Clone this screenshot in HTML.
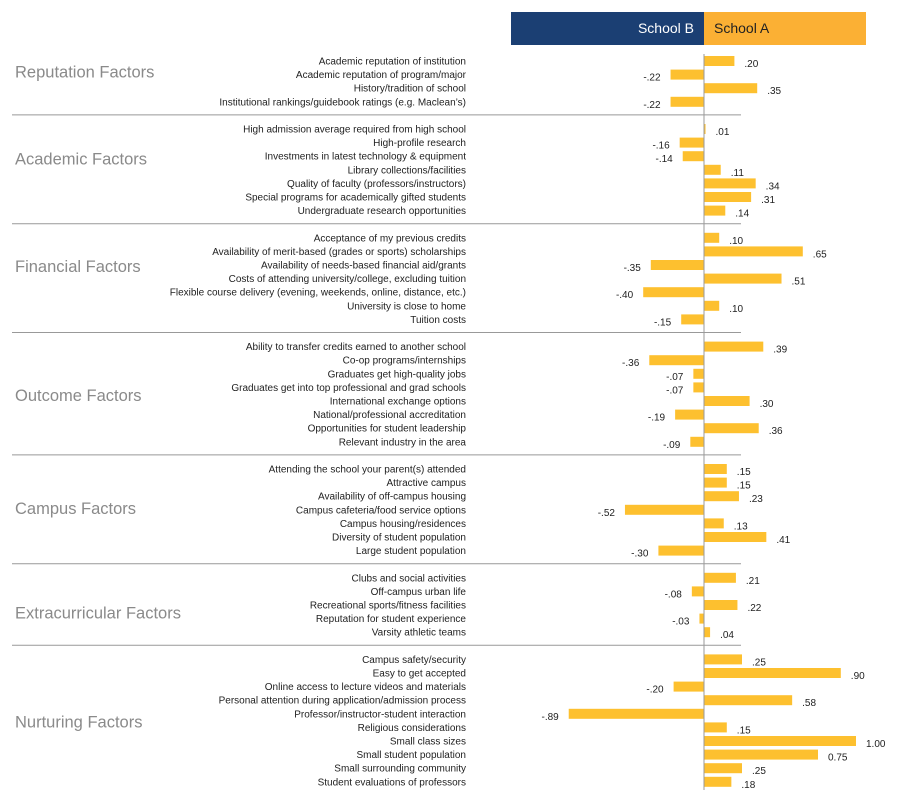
<!DOCTYPE html>
<html><head><meta charset="utf-8"><style>
body{margin:0;background:#fff;}
svg{display:block;font-family:"Liberation Sans",sans-serif;}
</style></head><body>
<svg id="c" width="900" height="794"></svg>
<script>
const groups=["Reputation Factors","Academic Factors","Financial Factors","Outcome Factors","Campus Factors","Extracurricular Factors","Nurturing Factors"];
const groupSizes=[4,7,7,8,7,5,10];
const categories=["Academic reputation of institution","Academic reputation of program/major","History/tradition of school","Institutional rankings/guidebook ratings (e.g. Maclean\u2019s)",
"High admission average required from high school","High-profile research","Investments in latest technology & equipment","Library collections/facilities","Quality of faculty (professors/instructors)","Special programs for academically gifted students","Undergraduate research opportunities",
"Acceptance of my previous credits","Availability of merit-based (grades or sports) scholarships","Availability of needs-based financial aid/grants","Costs of attending university/college, excluding tuition","Flexible course delivery (evening, weekends, online, distance, etc.)","University is close to home","Tuition costs",
"Ability to transfer credits earned to another school","Co-op programs/internships","Graduates get high-quality jobs","Graduates get into top professional and grad schools","International exchange options","National/professional accreditation","Opportunities for student leadership","Relevant industry in the area",
"Attending the school your parent(s) attended","Attractive campus","Availability of off-campus housing","Campus cafeteria/food service options","Campus housing/residences","Diversity of student population","Large student population",
"Clubs and social activities","Off-campus urban life","Recreational sports/fitness facilities","Reputation for student experience","Varsity athletic teams",
"Campus safety/security","Easy to get accepted","Online access to lecture videos and materials","Personal attention during application/admission process","Professor/instructor-student interaction","Religious considerations","Small class sizes","Small student population","Small surrounding community","Student evaluations of professors"];
const values=[0.20,-0.22,0.35,-0.22,
0.01,-0.16,-0.14,0.11,0.34,0.31,0.14,
0.10,0.65,-0.35,0.51,-0.40,0.10,-0.15,
0.39,-0.36,-0.07,-0.07,0.30,-0.19,0.36,-0.09,
0.15,0.15,0.23,-0.52,0.13,0.41,-0.30,
0.21,-0.08,0.22,-0.03,0.04,
0.25,0.90,-0.20,0.58,-0.89,0.15,1.00,0.75,0.25,0.18];
const valueLabels=[".20","-.22",".35","-.22",
".01","-.16","-.14",".11",".34",".31",".14",
".10",".65","-.35",".51","-.40",".10","-.15",
".39","-.36","-.07","-.07",".30","-.19",".36","-.09",
".15",".15",".23","-.52",".13",".41","-.30",
".21","-.08",".22","-.03",".04",
".25",".90","-.20",".58","-.89",".15","1.00","0.75",".25",".18"];
const svg=document.getElementById('c');
const NS="http://www.w3.org/2000/svg";
function mk(t,a,p){const e=document.createElementNS(NS,t);for(const k in a)e.setAttribute(k,a[k]);(p||svg).appendChild(e);return e;}
const x0=704, scale=152;
const labelRowPos=[0.8,2.2,2.1,3.6,2.9,2.6,4.6];
function xs(v){return x0+v*scale;}
function ys(slot){return 61+slot*13.6;}
let h=mk('rect',{x:511,y:12,width:193,height:33,fill:'#1B3F73'});


let ht=mk('text',{x:694,y:33,'text-anchor':'end','font-size':14,fill:'#fff'});ht.textContent='School B';


let ha=mk('rect',{x:704,y:12,width:162,height:33,fill:'#FBB034'});


let hat=mk('text',{x:714,y:33,'font-size':14,fill:'#222'});hat.textContent='School A';


let slot=0,idx=0;
groups.forEach((g,gi)=>{
  const n=groupSizes[gi];
  const gy=ys(slot+labelRowPos[gi]);
  let gt=mk('text',{x:15,y:gy+5.5,'font-size':16.5,fill:'#8a8a8a'});gt.textContent=g;
  
  
  for(let i=0;i<n;i++){
    const y=ys(slot), v=values[idx];
    let lt=mk('text',{x:466,y:y+3.5,'text-anchor':'end','font-size':10,fill:'#222'});lt.textContent=categories[idx];
    
    
    const xa=Math.min(xs(0),xs(v)), w=Math.abs(xs(v)-xs(0));
    let b=mk('rect',{x:xa,y:y-5,width:Math.max(w,0.5),height:10,fill:'#FDC02F'});
    
    
    let vt=mk('text',{x:v>=0?xs(v)+10:xs(v)-10,y:y+6,'text-anchor':v>=0?'start':'end','font-size':10,fill:'#222'});vt.textContent=valueLabels[idx];
    
    
    slot++;idx++;
  }
  if(gi<groups.length-1){
    let l=mk('line',{x1:12,x2:741,y1:ys(slot)-0.5,y2:ys(slot)-0.5,stroke:'#999','stroke-width':1});
    
    
    slot++;
  }
});
let z=mk('line',{x1:x0,x2:x0,y1:54,y2:790,stroke:'#999','stroke-width':1});


</script>
</body></html>
